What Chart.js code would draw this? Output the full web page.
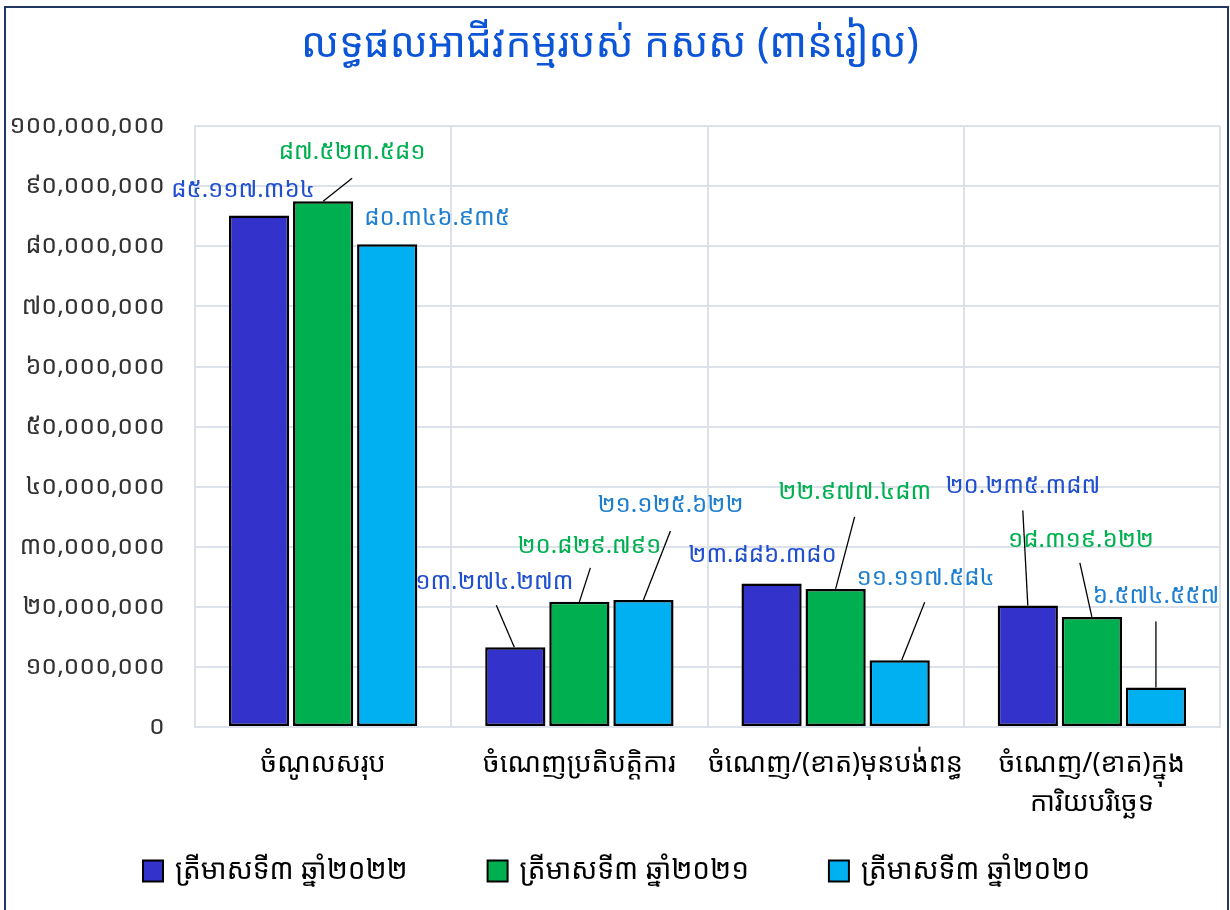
<!DOCTYPE html>
<html>
<head>
<meta charset="utf-8">
<script src="https://cdn.jsdelivr.net/npm/chart.js@4/dist/chart.umd.min.js"></script>
<style>
  html, body { margin: 0; padding: 0; background: #fff; }
  #wrap { position: relative; width: 1230px; height: 910px; }
  #frame { position: absolute; left: 4px; top: 6px; width: 1221px; height: 920px;
           border: 2px solid #203864; pointer-events: none; }
</style>
</head>
<body>
<div id="wrap">
  <canvas id="grafico" width="1230" height="910"></canvas>
  <div id="frame"></div>
</div>
<script>
// dados do gráfico
const categorias = [
  'ចំណូលសរុប',
  'ចំណេញប្រតិបត្តិការ',
  'ចំណេញ/(ខាត)មុនបង់ពន្ធ',
  ['ចំណេញ/(ខាត)ក្នុង', 'ការិយបរិច្ឆេទ']
];
const serie2022 = [85117364, 13274273, 23886380, 20235387];
const serie2021 = [87523581, 20829791, 22977483, 18319622];
const serie2020 = [80346935, 21125622, 11117584, 6574557];
const nomesSeries = ['ត្រីមាសទី៣ ឆ្នាំ២០២២', 'ត្រីមាសទី៣ ឆ្នាំ២០២១', 'ត្រីមាសទី៣ ឆ្នាំ២០២០'];
const titulo = 'លទ្ធផលអាជីវកម្មរបស់ កសស (ពាន់រៀល)';

const FONTE = '"Noto Sans Khmer", "Khmer OS", "Khmer OS System", "Noto Sans", sans-serif';
const digitosKhmer = '០១២៣៤៥៦៧៨៩';

function paraKhmer(txt) {
    return String(txt).replace(/[0-9]/g, d => digitosKhmer[+d]);
}
function formatar(valor, sep) {
    return paraKhmer(Math.round(valor).toString().replace(/\B(?=(\d{3})+(?!\d))/g, sep));
}

// posição dos rótulos em relação ao topo da barra: [dx, dy] e linha guia [x0, x1, y1]
const rotulos = [
    [ {d: [-16, -25]}, {d: [-21, -65], l: [-1, -19, -42]}, {d: [-9, -28]}, {d: [-5, -119], l: [0, -5, -95]} ],
    [ {d: [29, -49], l: [0, 29, -23]}, {d: [10, -56], l: [0, 11, -34]}, {d: [19, -97], l: [0, 19, -72]}, {d: [-11, -77], l: [0, -12, -54]} ],
    [ {d: [50, -26]}, {d: [27, -95], l: [0, 27, -69]}, {d: [26, -82], l: [2, 25, -58]}, {d: [0, -91], l: [0, 0, -66]} ]
];
const coresRotulo = ['#2150CF', '#00B050', '#1E7FD0'];

const pluginRotulos = {
    id: 'rotulos',
    afterDatasetsDraw(chart) {
        const ctx = chart.ctx;
        ctx.save();
        ctx.font = '24px ' + FONTE;
        ctx.textAlign = 'center';
        ctx.textBaseline = 'middle';
        chart.data.datasets.forEach((ds, i) => {
            const meta = chart.getDatasetMeta(i);
            meta.data.forEach((bar, j) => {
                const r = rotulos[i][j];
                if (r.l) {
                    ctx.strokeStyle = '#000';
                    ctx.lineWidth = 1.3;
                    ctx.beginPath();
                    ctx.moveTo(bar.x + r.l[0], bar.y);
                    ctx.lineTo(bar.x + r.l[1], bar.y + r.l[2]);
                    ctx.stroke();
                }
                ctx.fillStyle = coresRotulo[i];
                ctx.fillText(formatar(ds.data[j], '.'), bar.x + r.d[0], bar.y + r.d[1]);
            });
        });
        ctx.restore();
    }
};

// legenda desenhada à mão (o espaçamento horizontal do Chart.js também mexe na altura)
const pluginLegenda = {
    id: 'legendaManual',
    afterDraw(chart) {
        const ctx = chart.ctx;
        const y = 871, caixaL = 20, caixaA = 21, gap = 12, espaco = 80;
        ctx.save();
        ctx.font = '28px ' + FONTE;
        ctx.textBaseline = 'middle';
        let x = 143;
        chart.data.datasets.forEach(ds => {
            ctx.fillStyle = ds.backgroundColor;
            ctx.fillRect(x, y - caixaA / 2, caixaL, caixaA);
            ctx.strokeStyle = '#000';
            ctx.lineWidth = 2;
            ctx.strokeRect(x, y - caixaA / 2, caixaL, caixaA);
            ctx.fillStyle = '#000';
            ctx.fillText(ds.label, x + caixaL + gap, y);
            x += caixaL + gap + ctx.measureText(ds.label).width + espaco;
        });
        ctx.restore();
    }
};

function criarSerie(nome, dados, cor) {
    return {
        label: nome,
        data: dados,
        backgroundColor: cor,
        borderColor: '#000',
        borderWidth: 2.5,
        borderSkipped: false,
        categoryPercentage: 0.75,
        barPercentage: 0.94
    };
}

const corGrade = '#DDE1E9';

new Chart(document.getElementById('grafico'), {
    type: 'bar',
    data: {
        labels: categorias,
        datasets: [
            criarSerie(nomesSeries[0], serie2022, '#3333CC'),
            criarSerie(nomesSeries[1], serie2021, '#00B050'),
            criarSerie(nomesSeries[2], serie2020, '#00B0F0')
        ]
    },
    options: {
        responsive: false,
        animation: false,
        layout: { padding: { left: 0, right: 10, top: 21, bottom: 73 } },
        plugins: {
            title: {
                display: true,
                text: titulo,
                color: '#0B55D6',
                font: { family: FONTE, size: 41, weight: 'normal' },
                padding: { top: 0, bottom: 56 }
            },
            legend: { display: false },
            tooltip: { enabled: false }
        },
        scales: {
            x: {
                grid: { color: corGrade, lineWidth: 2, drawTicks: false },
                border: { color: corGrade, width: 2 },
                ticks: {
                    color: '#000',
                    font: { family: FONTE, size: 27, lineHeight: 1.45 },
                    padding: 18,
                    maxRotation: 0,
                    autoSkip: false
                },
                afterFit(scale) { scale.height = 110; }
            },
            y: {
                min: 0,
                max: 100000000,
                ticks: {
                    stepSize: 10000000,
                    color: '#333',
                    font: { family: FONTE, size: 25 },
                    padding: 30,
                    callback: v => formatar(v, ',')
                },
                grid: { color: corGrade, lineWidth: 2, drawTicks: false },
                border: { color: corGrade, width: 2 },
                afterFit(scale) { scale.width = 195; }
            }
        }
    },
    plugins: [pluginRotulos, pluginLegenda]
});
</script>
</body>
</html>
